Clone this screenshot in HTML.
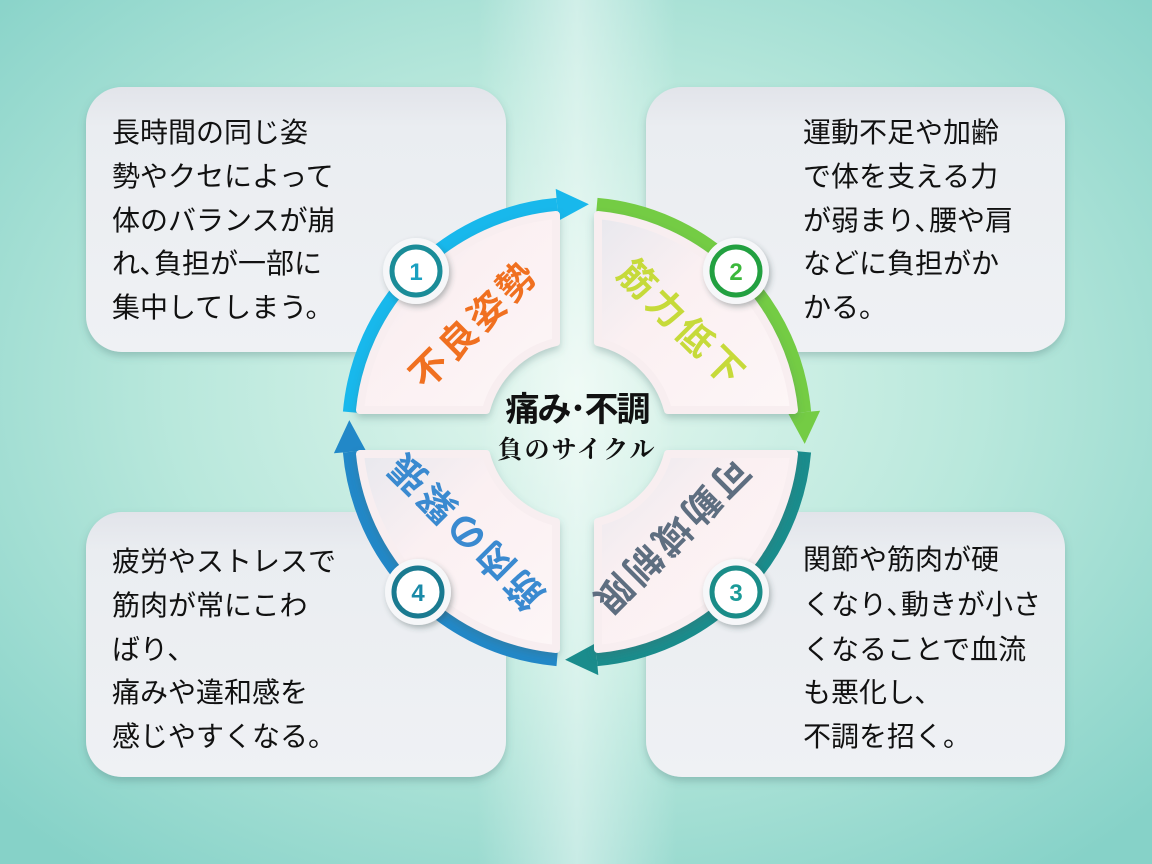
<!DOCTYPE html>
<html><head><meta charset="utf-8"><style>
html,body{margin:0;padding:0;width:1152px;height:864px;overflow:hidden}
svg{display:block}
.t{font-family:"Liberation Sans","Noto Sans CJK JP",sans-serif;font-size:28px;fill:#111}
.q{font-family:"Liberation Sans","Noto Sans CJK JP",sans-serif;font-weight:bold;font-size:37px;letter-spacing:4px}
.n{font-family:"Liberation Sans",sans-serif;font-weight:bold;font-size:24px}
</style></head><body>
<svg width="1152" height="864" viewBox="0 0 1152 864" xmlns="http://www.w3.org/2000/svg">
<defs>
<radialGradient id="bg" cx="0.5" cy="0.45" r="0.7">
<stop offset="0" stop-color="#e2f6ee"/><stop offset="0.5" stop-color="#b9e8dc"/><stop offset="1" stop-color="#86d2c8"/>
</radialGradient>
<linearGradient id="beam" x1="0" x2="1" y1="0" y2="0">
<stop offset="0" stop-color="#fff" stop-opacity="0"/><stop offset="0.5" stop-color="#fff" stop-opacity="0.45"/><stop offset="1" stop-color="#fff" stop-opacity="0"/>
</linearGradient>
<linearGradient id="box" x1="0" y1="0" x2="0" y2="1">
<stop offset="0" stop-color="#e2e4ea"/><stop offset="0.15" stop-color="#eaedf1"/><stop offset="1" stop-color="#eff1f4"/>
</linearGradient>
<linearGradient id="qd" x1="0" y1="0" x2="1" y2="1">
<stop offset="0" stop-color="#e8e8ee"/><stop offset="0.4" stop-color="#fbf0f2"/><stop offset="1" stop-color="#fdf6f7"/>
</linearGradient>
<filter id="sh" x="-10%" y="-10%" width="120%" height="125%"><feDropShadow dx="0" dy="4" stdDeviation="4" flood-color="#406868" flood-opacity="0.3"/></filter>
<filter id="sh2" x="-30%" y="-30%" width="160%" height="160%"><feDropShadow dx="2" dy="3" stdDeviation="3" flood-color="#304848" flood-opacity="0.35"/></filter>
</defs>
<rect width="1152" height="864" fill="url(#bg)"/>
<rect x="477" y="0" width="200" height="864" fill="url(#beam)"/>

<g filter="url(#sh)" fill="url(#box)">
<rect x="86" y="87" width="420" height="265" rx="36"/>
<rect x="646" y="87" width="419" height="265" rx="36"/>
<rect x="86" y="512" width="420" height="265" rx="36"/>
<rect x="646" y="512" width="419" height="265" rx="36"/>
</g>
<g class="t">
<text x="112" y="142">長時間の同じ姿</text>
<text x="112" y="186">勢やクセによって</text>
<text x="112" y="230">体のバランスが崩</text>
<text x="112" y="273">れ､負担が一部に</text>
<text x="112" y="317">集中してしまう。</text>
<text x="803" y="142">運動不足や加齢</text>
<text x="803" y="186">で体を支える力</text>
<text x="803" y="230">が弱まり､腰や肩</text>
<text x="803" y="273">などに負担がか</text>
<text x="803" y="317">かる。</text>
<text x="112" y="571">疲労やストレスで</text>
<text x="112" y="615">筋肉が常にこわ</text>
<text x="112" y="659">ばり､</text>
<text x="112" y="702">痛みや違和感を</text>
<text x="112" y="746">感じやすくなる。</text>
<text x="803" y="569">関節や筋肉が硬</text>
<text x="803" y="614">くなり､動きが小さ</text>
<text x="803" y="659">くなることで血流</text>
<text x="803" y="702">も悪化し､</text>
<text x="803" y="746">不調を招く。</text>
</g>

<g fill="none" stroke-width="14">
<g><path d="M349.9,412.1 A228 228 0 0 1 557.1,204.9" stroke="#18b8ec"/><polygon points="555.7,188.9 558.5,220.8 588.9,204.3" fill="#18b8ec" stroke="none"/></g>
<g transform="rotate(90 577 432)"><path d="M349.9,412.1 A228 228 0 0 1 557.1,204.9" stroke="#74cc44"/><polygon points="555.7,188.9 558.5,220.8 588.9,204.3" fill="#74cc44" stroke="none"/></g>
<g transform="rotate(180 577 432)"><path d="M349.9,412.1 A228 228 0 0 1 557.1,204.9" stroke="#1a8c8c"/><polygon points="555.7,188.9 558.5,220.8 588.9,204.3" fill="#1a8c8c" stroke="none"/></g>
<g transform="rotate(270 577 432)"><path d="M349.9,412.1 A228 228 0 0 1 557.1,204.9" stroke="#2288c8"/><polygon points="555.7,188.9 558.5,220.8 588.9,204.3" fill="#2288c8" stroke="none"/></g>
</g>

<g filter="url(#sh)" fill="url(#qd)" stroke="#f8eef0" stroke-width="8" stroke-linejoin="round">
<path d="M556,215 A218 218 0 0 0 360,410 L486,410 A95 95 0 0 1 556,342 Z"/>
<path d="M598,215 A218 218 0 0 1 794,410 L668,410 A95 95 0 0 0 598,342 Z"/>
<path d="M794,454 A218 218 0 0 1 598,649 L598,522 A95 95 0 0 0 668,454 Z"/>
<path d="M556,649 A218 218 0 0 1 360,454 L486,454 A95 95 0 0 0 556,522 Z"/>
</g>

<text class="q" fill="#f07020" text-anchor="middle" transform="translate(474,324) rotate(-45)" dy="13">不良姿勢</text>
<text class="q" fill="#c6da3a" text-anchor="middle" transform="translate(682,324) rotate(45)" dy="13">筋力低下</text>
<text class="q" fill="#5e6e80" font-size="35" text-anchor="middle" transform="translate(670,536) rotate(135)" dy="12">可動域制限</text>
<text class="q" fill="#3a8ad0" font-size="35" text-anchor="middle" transform="translate(466,530) rotate(-135)" dy="12">筋肉の緊張</text>

<g>
<circle cx="416" cy="271" r="33" fill="#f6f7f9" filter="url(#sh2)"/><circle cx="416" cy="271" r="24" fill="#fff" stroke="#1a8c98" stroke-width="5"/><text class="n" x="416" y="280" text-anchor="middle" fill="#1aa0c0">1</text>
<circle cx="736" cy="271" r="33" fill="#f6f7f9" filter="url(#sh2)"/><circle cx="736" cy="271" r="24" fill="#fff" stroke="#22a040" stroke-width="5"/><text class="n" x="736" y="280" text-anchor="middle" fill="#3cb83c">2</text>
<circle cx="736" cy="592" r="33" fill="#f6f7f9" filter="url(#sh2)"/><circle cx="736" cy="592" r="24" fill="#fff" stroke="#1a8c88" stroke-width="5"/><text class="n" x="736" y="601" text-anchor="middle" fill="#1a9a98">3</text>
<circle cx="418" cy="592" r="33" fill="#f6f7f9" filter="url(#sh2)"/><circle cx="418" cy="592" r="24" fill="#fff" stroke="#1a7a90" stroke-width="5"/><text class="n" x="418" y="601" text-anchor="middle" fill="#1a8aa8">4</text>
</g>

<text x="577" y="421" text-anchor="middle" font-family="'Liberation Sans','Noto Sans CJK JP',sans-serif" font-weight="bold" font-size="34" fill="#111" letter-spacing="-2">痛み･不調</text>
<text x="577" y="458" text-anchor="middle" font-family="'Liberation Serif','Noto Serif CJK SC',serif" font-weight="bold" font-size="25" fill="#111" letter-spacing="2">負のサイクル</text>
</svg>
</body></html>
